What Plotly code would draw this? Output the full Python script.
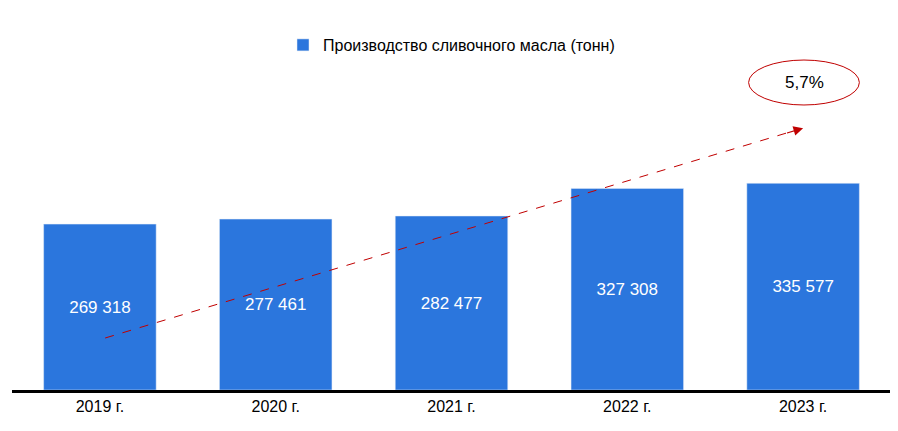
import plotly.graph_objects as go

years = ["2019 г.", "2020 г.", "2021 г.", "2022 г.", "2023 г."]
values = [269318, 277461, 282477, 327308, 335577]
labels = ["269 318", "277 461", "282 477", "327 308", "335 577"]
growth = "5,7%"

fig = go.Figure(go.Bar(
    x=years, y=values, text=labels, textposition="inside", insidetextanchor="middle",
    textfont=dict(color="white", size=17, family="Liberation Sans"),
    marker_color="#2b76dd", width=0.64, name="Производство сливочного масла (тонн)",
    showlegend=True))

fig.add_shape(type="circle", xref="x", yref="y", x0=3.69, x1=4.32, y0=462700, y1=535700,
              line=dict(color="#c00000", width=1))
fig.add_annotation(x=4.01, y=500000, xref="x", yref="y", text=growth, showarrow=False,
                   font=dict(size=17, color="black", family="Liberation Sans"))
fig.add_shape(type="line", xref="x", yref="y", x0=0.03, y0=84400, x1=3.95, y1=421000,
              line=dict(color="#c00000", width=1, dash="dash"))
fig.add_annotation(x=4, y=425000, ax=3.9, ay=416500, xref="x", yref="y", axref="x", ayref="y",
                   showarrow=True, arrowhead=2, arrowsize=1.6, arrowwidth=1.2,
                   arrowcolor="#c00000", text="")

fig.update_layout(
    width=898, height=431, margin=dict(l=4, r=15, t=20, b=49),
    plot_bgcolor="white", paper_bgcolor="white",
    font=dict(family="Liberation Sans", size=16, color="black"),
    legend=dict(orientation="h", x=0.5, xanchor="center", y=1.0, yanchor="top",
                font=dict(size=16)),
    yaxis=dict(range=[0, 587700], visible=False),
    xaxis=dict(showline=True, linecolor="black", linewidth=3, ticks="",
               tickfont=dict(size=16)),
)
fig.write_html("out.html")
